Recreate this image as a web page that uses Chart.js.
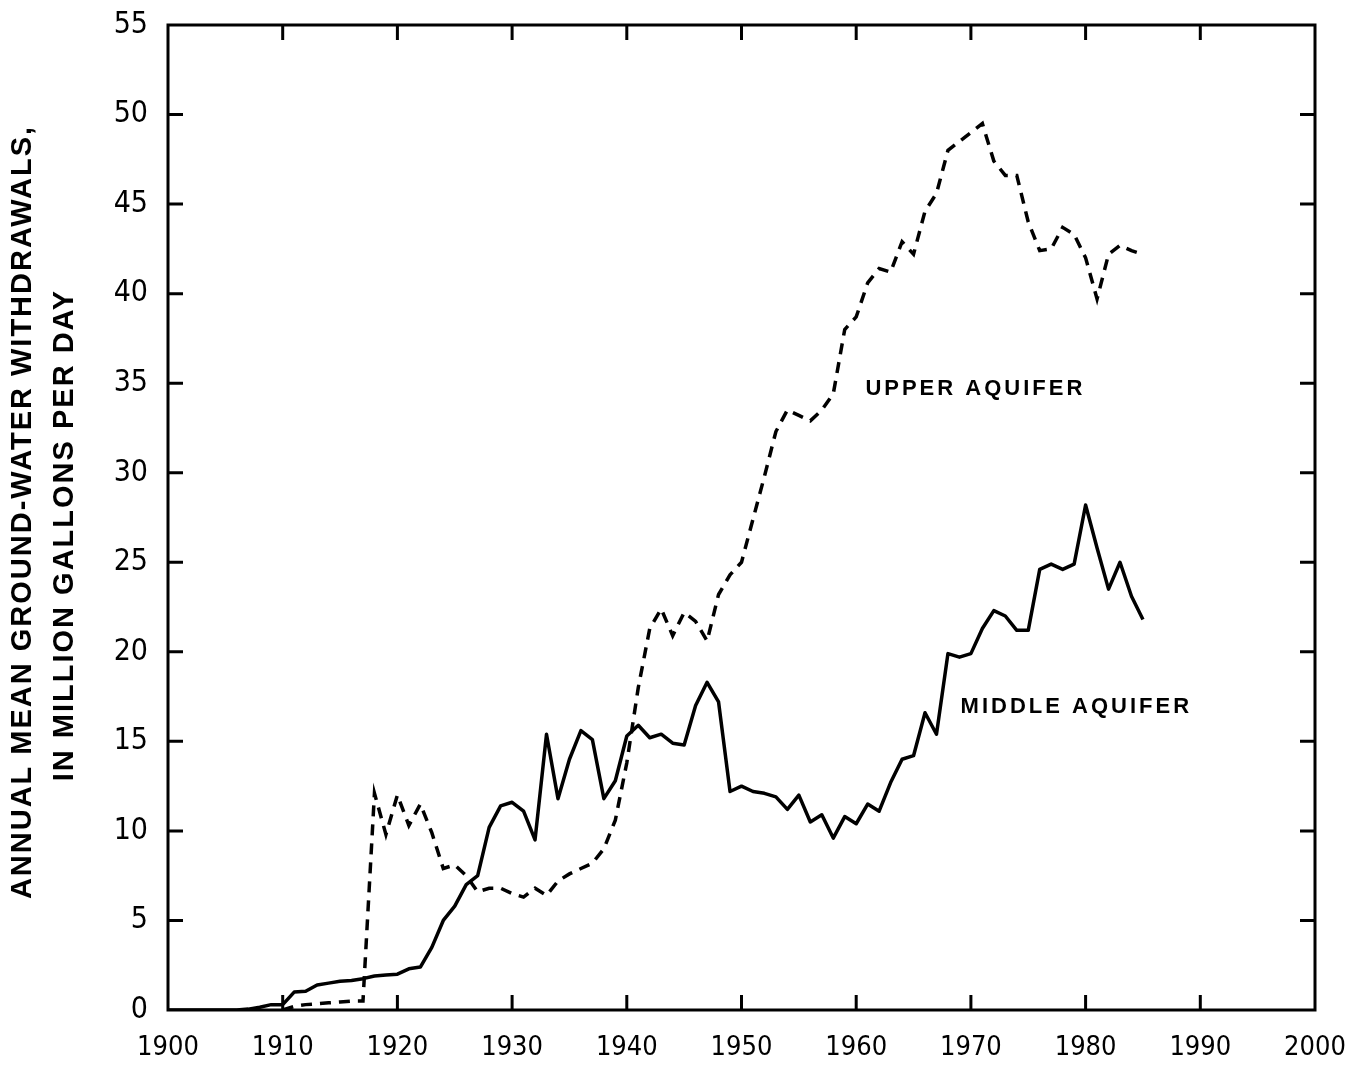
<!DOCTYPE html>
<html>
<head>
<meta charset="utf-8">
<script src="https://cdn.jsdelivr.net/npm/chart.js@4.4.1/dist/chart.umd.min.js"></script>
<style>
  html, body { margin: 0; padding: 0; background: #fff; overflow: hidden; }
  #wrap { width: 1356px; height: 1067px; position: relative; }
</style>
</head>
<body>
<div id="wrap"><canvas id="chartAquifers"></canvas></div>
<script>
// years 1900 - 1985
const years = [];
for (let y = 1900; y <= 1985; y++) years.push(y);

// Middle aquifer (solid), million gallons per day
const middleAquifer = [
  0, 0, 0, 0, 0, 0, 0, 0.05, 0.15, 0.3,            // 1900-1909
  0.3, 1.0, 1.05, 1.4, 1.5, 1.6, 1.65, 1.75, 1.9, 1.95, // 1910-1919
  2.0, 2.3, 2.4, 3.5, 5.0, 5.8, 7.0, 7.5, 10.2, 11.4,   // 1920-1929
  11.6, 11.1, 9.5, 15.4, 11.8, 14.0, 15.6, 15.1, 11.8, 12.8, // 1930-1939
  15.3, 15.9, 15.2, 15.4, 14.9, 14.8, 17.0, 18.3, 17.2, 12.2, // 1940-1949
  12.5, 12.2, 12.1, 11.9, 11.2, 12.0, 10.5, 10.9, 9.6, 10.8,  // 1950-1959
  10.4, 11.5, 11.1, 12.7, 14.0, 14.2, 16.6, 15.4, 19.9, 19.7, // 1960-1969
  19.9, 21.3, 22.3, 22.0, 21.2, 21.2, 24.6, 24.9, 24.6, 24.9, // 1970-1979
  28.2, 25.8, 23.5, 25.0, 23.1, 21.8                        // 1980-1985
];

// Upper aquifer (dashed), starts 1910
const upperYears = years.filter(y => y >= 1910);
const upperAquifer = [
  0, 0.2, 0.3, 0.35, 0.4, 0.45, 0.5, 0.5, 12.1, 9.8,     // 1910-1919
  12.0, 10.3, 11.5, 9.9, 7.9, 8.1, 7.5, 6.6, 6.8, 6.8,   // 1920-1929
  6.5, 6.3, 6.8, 6.4, 7.2, 7.6, 7.9, 8.2, 9.0, 10.6,     // 1930-1939
  13.8, 18.0, 21.3, 22.4, 20.9, 22.2, 21.7, 20.6, 23.2, 24.3, // 1940-1949
  25.0, 27.4, 29.8, 32.3, 33.5, 33.2, 32.9, 33.5, 34.4, 38.0, // 1950-1959
  38.7, 40.6, 41.4, 41.2, 42.9, 42.2, 44.6, 45.6, 48.0, 48.5, // 1960-1969
  49.0, 49.5, 47.4, 46.6, 46.6, 44.0, 42.4, 42.5, 43.7, 43.3, // 1970-1979
  42.0, 39.7, 42.2, 42.7, 42.4, 42.2                        // 1980-1985
];

const yTitle = ['ANNUAL MEAN GROUND-WATER WITHDRAWALS,', 'IN MILLION GALLONS PER DAY'];
const seriesLabels = ['UPPER AQUIFER', 'MIDDLE AQUIFER'];
const labelAnchors = [[1960.8, 34.7], [1969.1, 16.9]];

const TICK_FONT = "'Liberation Sans Narrow', 'DejaVu Sans Condensed', sans-serif";
const TEXT_FONT = "'Liberation Sans', Arial, sans-serif";

// frame with inward ticks on all four sides, curve labels, rotated y title
const framePlugin = {
  id: 'frame',
  afterDraw(chart) {
    const { ctx, chartArea: a, scales: { x, y } } = chart;
    ctx.save();
    ctx.strokeStyle = '#000';
    ctx.lineWidth = 3;
    ctx.lineCap = 'butt';
    ctx.strokeRect(a.left, a.top, a.right - a.left, a.bottom - a.top);
    const len = 15;
    ctx.beginPath();
    x.ticks.forEach(t => {
      if (t.value <= x.min || t.value >= x.max) return;
      const px = x.getPixelForValue(t.value);
      ctx.moveTo(px, a.bottom); ctx.lineTo(px, a.bottom - len);
      ctx.moveTo(px, a.top); ctx.lineTo(px, a.top + len);
    });
    y.ticks.forEach(t => {
      if (t.value <= y.min || t.value >= y.max) return;
      const py = y.getPixelForValue(t.value);
      ctx.moveTo(a.left, py); ctx.lineTo(a.left + len, py);
      ctx.moveTo(a.right, py); ctx.lineTo(a.right - len, py);
    });
    ctx.stroke();

    ctx.fillStyle = '#000';
    ctx.font = `bold 22px ${TEXT_FONT}`;
    ctx.letterSpacing = '3px';
    ctx.textAlign = 'left';
    ctx.textBaseline = 'middle';
    seriesLabels.forEach((txt, i) => {
      ctx.fillText(txt, x.getPixelForValue(labelAnchors[i][0]), y.getPixelForValue(labelAnchors[i][1]));
    });

    // y axis title, two lines
    ctx.font = `bold 29px ${TEXT_FONT}`;
    ctx.letterSpacing = '2px';
    ctx.textAlign = 'center';
    const cy = [512, 535], cx = [23, 65];
    yTitle.forEach((line, i) => {
      ctx.save();
      ctx.translate(cx[i], cy[i]);
      ctx.rotate(-Math.PI / 2);
      ctx.fillText(line, 0, 0);
      ctx.restore();
    });
    ctx.restore();
  }
};

const ctx = document.getElementById('chartAquifers').getContext('2d');
new Chart(ctx, {
  type: 'line',
  data: {
    datasets: [
      {
        label: 'Middle aquifer',
        data: years.map((yr, i) => ({ x: yr, y: middleAquifer[i] })),
        borderColor: '#000', borderWidth: 3.5, pointRadius: 0, tension: 0,
        borderJoinStyle: 'round'
      },
      {
        label: 'Upper aquifer',
        data: upperYears.map((yr, i) => ({ x: yr, y: upperAquifer[i] })),
        borderColor: '#000', borderWidth: 3.5, borderDash: [11, 8], pointRadius: 0, tension: 0
      }
    ]
  },
  options: {
    responsive: true, maintainAspectRatio: false, animation: false,
    layout: { padding: { top: 25, right: 41, left: 0, bottom: 0 } },
    plugins: { legend: { display: false }, tooltip: { enabled: false } },
    scales: {
      x: {
        type: 'linear', min: 1900, max: 2000,
        afterFit: s => { s.height = 57; s.paddingLeft = 0; s.paddingRight = 0; },
        grid: { display: false, drawTicks: false },
        border: { display: false },
        ticks: { stepSize: 10, color: '#000', padding: 22, maxRotation: 0, autoSkip: false,
                 font: { family: TICK_FONT, size: 27 }, callback: v => String(v) }
      },
      y: {
        min: 0, max: 55,
        afterFit: s => { s.width = 168; s.paddingTop = 0; s.paddingBottom = 0; },
        grid: { display: false, drawTicks: false },
        border: { display: false },
        ticks: { stepSize: 5, color: '#000', padding: 20, font: { family: TICK_FONT, size: 30 } }
      }
    }
  },
  plugins: [framePlugin]
});
</script>
</body>
</html>
